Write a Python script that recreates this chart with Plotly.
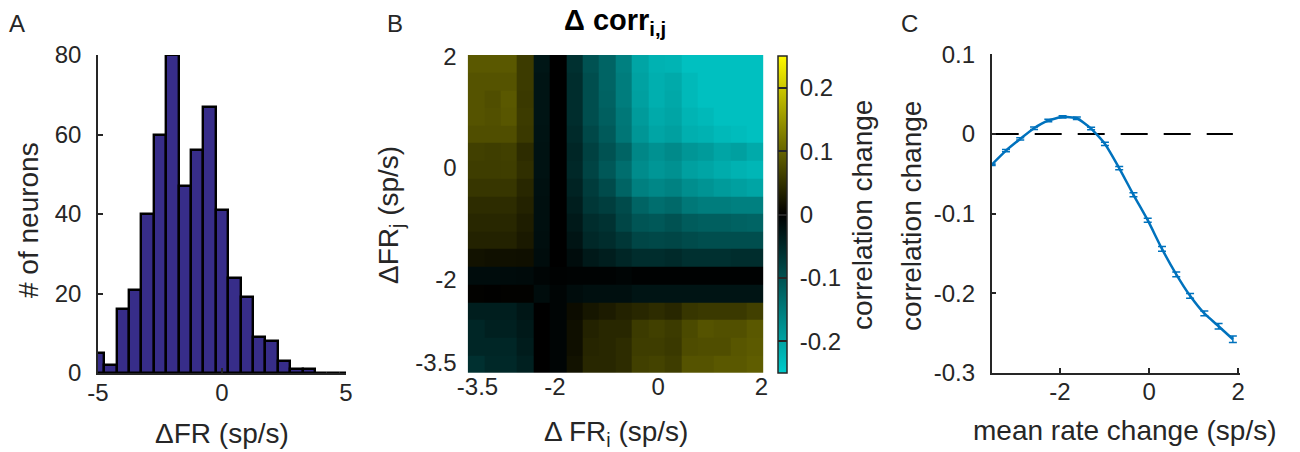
import plotly.graph_objects as go

W, H = 1300, 452

# ---------------- Panel A: histogram of firing-rate changes ----------------
fr_bin_centers = [-5.0, -4.5, -4.0, -3.5, -3.0, -2.5, -2.0, -1.5, -1.0, -0.5, 0.0,
                  0.5, 1.0, 1.5, 2.0, 2.5, 3.0, 3.5, 4.0, 4.5, 5.0]
neuron_counts = [5, 2, 16, 21, 40, 60, 80, 47, 56, 67, 41,
                 24, 19, 9, 8, 3, 1, 1, 0, 0, 0]

# ---------------- Panel B: correlation change map ----------------
rate_bins = [-3.53, -3.21, -2.89, -2.58, -2.26, -1.94, -1.62, -1.30, -0.99,
             -0.67, -0.35, -0.03, 0.29, 0.61, 0.92, 1.24, 1.56, 1.88]

# rows ordered from the lowest ΔFR_j (bottom) to the highest (top)
corr_change = [
    [-0.059, -0.049, -0.049, -0.039, 0.000, -0.006, 0.018, 0.039, 0.039, 0.044, 0.064, 0.067, 0.061, 0.083, 0.083, 0.088, 0.088, 0.093],
    [-0.047, -0.047, -0.047, -0.034, 0.000, -0.006, 0.015, 0.037, 0.039, 0.044, 0.061, 0.061, 0.057, 0.076, 0.078, 0.078, 0.086, 0.090],
    [-0.047, -0.039, -0.039, -0.031, 0.000, -0.006, 0.015, 0.034, 0.039, 0.039, 0.059, 0.064, 0.059, 0.074, 0.083, 0.080, 0.080, 0.088],
    [-0.037, -0.037, -0.037, -0.027, 0.000, -0.006, 0.012, 0.022, 0.027, 0.034, 0.039, 0.044, 0.039, 0.054, 0.057, 0.057, 0.057, 0.064],
    [0.002, 0.001, 0.002, 0.002, -0.015, -0.006, -0.015, -0.018, -0.018, -0.018, -0.025, -0.025, -0.025, -0.025, -0.025, -0.025, -0.025, -0.025],
    [-0.015, -0.015, -0.014, -0.012, -0.006, -0.002, -0.004, -0.004, -0.004, -0.006, -0.002, -0.002, -0.002, -0.002, -0.002, -0.002, -0.002, -0.002],
    [0.018, 0.016, 0.016, 0.015, -0.015, 0.000, -0.015, -0.031, -0.037, -0.047, -0.055, -0.055, -0.051, -0.059, -0.059, -0.059, -0.055, -0.055],
    [0.034, 0.034, 0.034, 0.025, -0.017, 0.000, -0.025, -0.049, -0.055, -0.067, -0.086, -0.088, -0.086, -0.092, -0.096, -0.096, -0.096, -0.096],
    [0.039, 0.039, 0.039, 0.029, -0.018, 0.000, -0.031, -0.055, -0.061, -0.086, -0.104, -0.108, -0.100, -0.113, -0.116, -0.116, -0.120, -0.123],
    [0.044, 0.044, 0.044, 0.034, -0.018, 0.000, -0.037, -0.067, -0.076, -0.092, -0.123, -0.135, -0.129, -0.147, -0.153, -0.153, -0.157, -0.157],
    [0.054, 0.054, 0.054, 0.039, -0.020, 0.000, -0.043, -0.074, -0.092, -0.123, -0.157, -0.165, -0.159, -0.174, -0.181, -0.190, -0.196, -0.202],
    [0.061, 0.061, 0.062, 0.047, -0.022, 0.000, -0.049, -0.083, -0.108, -0.135, -0.172, -0.184, -0.178, -0.196, -0.202, -0.211, -0.218, -0.223],
    [0.064, 0.062, 0.064, 0.044, -0.022, 0.000, -0.047, -0.080, -0.100, -0.123, -0.165, -0.178, -0.169, -0.184, -0.190, -0.202, -0.196, -0.208],
    [0.078, 0.078, 0.078, 0.057, -0.023, 0.000, -0.051, -0.088, -0.110, -0.145, -0.184, -0.202, -0.196, -0.214, -0.218, -0.227, -0.230, -0.235],
    [0.083, 0.080, 0.086, 0.059, -0.024, 0.000, -0.055, -0.096, -0.116, -0.147, -0.190, -0.208, -0.202, -0.221, -0.227, -0.235, -0.235, -0.235],
    [0.083, 0.078, 0.088, 0.057, -0.025, 0.000, -0.055, -0.096, -0.120, -0.153, -0.196, -0.214, -0.206, -0.227, -0.235, -0.235, -0.235, -0.235],
    [0.083, 0.083, 0.083, 0.059, -0.025, 0.000, -0.055, -0.096, -0.123, -0.153, -0.199, -0.214, -0.208, -0.227, -0.235, -0.235, -0.235, -0.235],
    [0.088, 0.088, 0.088, 0.059, -0.027, 0.000, -0.059, -0.100, -0.123, -0.157, -0.202, -0.218, -0.221, -0.235, -0.235, -0.235, -0.235, -0.235],
]

# ---------------- Panel C: mean correlation change vs. mean rate change ----------------
mean_rate_change = rate_bins
mean_corr_change = [-0.0387, -0.0210, -0.0063, 0.0071, 0.0168, 0.0214, 0.0197, 0.0067, -0.0126,
                    -0.0429, -0.0765, -0.1084, -0.1445, -0.1765, -0.2034, -0.2256, -0.2416, -0.2580]
corr_sem = [0.0010, 0.0015, 0.0015, 0.0015, 0.0015, 0.0015, 0.0015, 0.0015, 0.0020,
            0.0020, 0.0025, 0.0025, 0.0030, 0.0030, 0.0030, 0.0030, 0.0035, 0.0040]

INK = "#262626"
FONT = "Liberation Sans, Arial, Helvetica, sans-serif"
TICK_SIZE = 24
LABEL_SIZE = 28
NBSP = "\u00a0"


def px_x(x):
    return x / W


def px_y(y):
    return 1 - y / H


fig = go.Figure()

# Panel A
fig.add_trace(go.Bar(
    x=fr_bin_centers, y=neuron_counts, width=0.5,
    marker=dict(color="#372d89", line=dict(color="black", width=2.4)),
    xaxis="x", yaxis="y", showlegend=False,
))

# Panel B
cbar_vals = [-0.2, -0.1, 0, 0.1, 0.2]
cbar_text = ["-0.2", "-0.1", "0", "0.1", "0.2"]
fig.add_trace(go.Heatmap(
    x=rate_bins, y=rate_bins, z=corr_change,
    zmin=-0.25, zmax=0.25,
    colorscale=[[0.0, "rgb(0,204,204)"], [0.5, "rgb(0,0,0)"], [1.0, "rgb(255,250,0)"]],
    xaxis="x2", yaxis="y2",
    colorbar=dict(
        x=px_x(778), xanchor="left", xpad=0,
        y=px_y(214.5), yanchor="middle", ypad=0,
        len=317 / H, lenmode="fraction",
        thickness=9, thicknessmode="pixels",
        outlinecolor=INK, outlinewidth=1.5,
        tickvals=cbar_vals,
        ticktext=[NBSP + t for t in cbar_text],
        ticks="inside", ticklen=9, tickwidth=1.5, tickcolor=INK,
        tickfont=dict(family=FONT, size=TICK_SIZE, color=INK),
    ),
))

# Panel C: zero reference line and the curve with error bars
fig.add_trace(go.Scatter(
    x=[mean_rate_change[0], mean_rate_change[-1]], y=[0, 0],
    mode="lines", line=dict(color="black", width=2, dash="27px,16px"),
    xaxis="x3", yaxis="y3", showlegend=False, hoverinfo="skip",
))
fig.add_trace(go.Scatter(
    x=mean_rate_change, y=mean_corr_change,
    mode="lines", line=dict(color="#0072BD", width=2.5, shape="spline", smoothing=0.5),
    error_y=dict(type="data", array=corr_sem, visible=True,
                 color="#0072BD", thickness=1.5, width=4),
    xaxis="x3", yaxis="y3", showlegend=False,
))

axis_common = dict(
    showgrid=False, zeroline=False,
    tickfont=dict(family=FONT, size=TICK_SIZE, color=INK),
    ticks="inside", ticklen=5, tickwidth=1.5, tickcolor=INK,
)

fig.update_layout(
    width=W, height=H,
    margin=dict(l=0, r=0, t=0, b=0, autoexpand=False),
    paper_bgcolor="white", plot_bgcolor="white",
    font=dict(family=FONT, color=INK),
    bargap=0,
    xaxis=dict(axis_common, domain=[px_x(98), px_x(346)], range=[-5, 5],
               tickvals=[-5, 0, 5], ticktext=["-5", "0", "5"],
               showline=True, linecolor=INK, linewidth=1.5,
               ticklabelstandoff=-3, anchor="y"),
    yaxis=dict(axis_common, domain=[px_y(373), px_y(55)], range=[0, 80],
               tickvals=[0, 20, 40, 60, 80], ticktext=["0", "20", "40", "60", "80"],
               showline=True, linecolor=INK, linewidth=1.5,
               ticklabelstandoff=10, anchor="x"),
    xaxis2=dict(axis_common, domain=[px_x(467.7), px_x(763.3)], range=[-3.689, 2.035],
                tickvals=[-3.5, -2, 0, 2], ticktext=["-3.5", "-2", "0", "2"],
                ticks="", showline=False, ticklabelstandoff=-3, anchor="y2"),
    yaxis2=dict(axis_common, domain=[px_y(373), px_y(55)], range=[-3.689, 2.035],
                tickvals=[-3.5, -2, 0, 2], ticktext=["-3.5", "-2", "0", "2"],
                ticks="", showline=False, ticklabelstandoff=10, anchor="x2"),
    xaxis3=dict(axis_common, domain=[px_x(991.7), px_x(1240)], range=[-3.53, 2.04],
                tickvals=[-2, 0, 2], ticktext=["-2", "0", "2"],
                showline=True, linecolor=INK, linewidth=1.5,
                ticklabelstandoff=-3, anchor="y3"),
    yaxis3=dict(axis_common, domain=[px_y(372.7), px_y(54.3)], range=[-0.3, 0.1],
                tickvals=[-0.3, -0.2, -0.1, 0, 0.1],
                ticktext=["-0.3", "-0.2", "-0.1", "0", "0.1"],
                showline=True, linecolor=INK, linewidth=1.5,
                ticklabelstandoff=10, anchor="x3"),
)


def label(text, x, y, size=LABEL_SIZE, angle=0, bold=False):
    fig.add_annotation(
        text=f"<b>{text}</b>" if bold else text,
        x=px_x(x), y=px_y(y), xref="paper", yref="paper",
        xanchor="center", yanchor="middle", showarrow=False,
        textangle=angle, font=dict(family=FONT, size=size, color="black" if bold else INK),
    )


# panel letters
label("A", 17, 23, size=24)
label("B", 395, 23, size=24)
label("C", 910, 23, size=24)

# panel A axis titles
label("# of neurons", 28, 220, angle=-90)
label("ΔFR (sp/s)", 222, 433)

# panel B titles
label("Δ corr<sub>i,j</sub>", 615, 22, size=29, bold=True)
label("Δ FR<sub>i</sub> (sp/s)", 616, 433)
label("ΔFR<sub>j</sub> (sp/s)", 390, 215, angle=-90)
label("correlation change", 862, 215, angle=-90)

# panel C axis titles
label("correlation change", 911, 216, angle=-90)
label("mean rate change (sp/s)", 1125, 430)

fig.write_html("out.html")
